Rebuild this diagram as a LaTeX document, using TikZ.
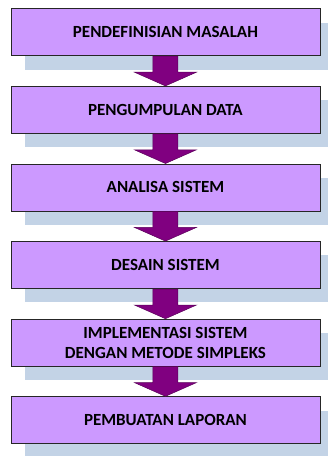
\documentclass[tikz,border=0pt]{standalone}
\usepackage{fontspec}
\setmainfont{Carlito}
\definecolor{boxfill}{HTML}{CC99FF}
\definecolor{shadowc}{HTML}{C3D3E6}
\definecolor{arrowc}{HTML}{800080}
\begin{document}
\begin{tikzpicture}[x=1pt,y=-1pt,
  stepbox/.style={draw=black!85,line width=0.9pt,fill=boxfill,minimum width=309pt,minimum height=47pt,
    anchor=north west,inner sep=0pt,align=center,font=\bfseries\fontsize{17}{20}\selectfont},
  shadowbox/.style={fill=shadowc,draw=none,minimum width=309pt,minimum height=47pt,anchor=north west,inner sep=0pt},
  flowarrow/.style={fill=arrowc,draw=arrowc!70!black,line width=0.5pt}]
\useasboundingbox (0,0) rectangle (328,456);
\clip (0,0) rectangle (328,456);
\foreach \i/\t in {0/8.3,1/85.9,2/163.5,3/241.1,4/318.7,5/396.3}{
  \node[shadowbox] (s\i) at (25,\t+14) {};
}
\node[stepbox] (b0) at (10.5,8.3) {PENDEFINISIAN MASALAH};
\node[stepbox] (b1) at (10.5,85.9) {PENGUMPULAN DATA};
\node[stepbox] (b2) at (10.5,163.5) {ANALISA SISTEM};
\node[stepbox] (b3) at (10.5,241.1) {DESAIN SISTEM};
\node[stepbox] (b4) at (10.5,318.7) {IMPLEMENTASI SISTEM\\DENGAN METODE SIMPLEKS};
\node[stepbox] (b5) at (10.5,396.3) {PEMBUATAN LAPORAN};
\foreach \a/\b in {b0/b1,b1/b2,b2/b3,b3/b4,b4/b5}{
  \draw[flowarrow] ([xshift=-12.5pt]\a.south) -- ([xshift=12.5pt]\a.south)
    -- ([xshift=12.5pt,yshift=-16pt]\a.south) -- ([xshift=31pt,yshift=-16pt]\a.south)
    -- (\b.north) -- ([xshift=-31pt,yshift=-16pt]\a.south)
    -- ([xshift=-12.5pt,yshift=-16pt]\a.south) -- cycle;
}
\end{tikzpicture}
\end{document}
